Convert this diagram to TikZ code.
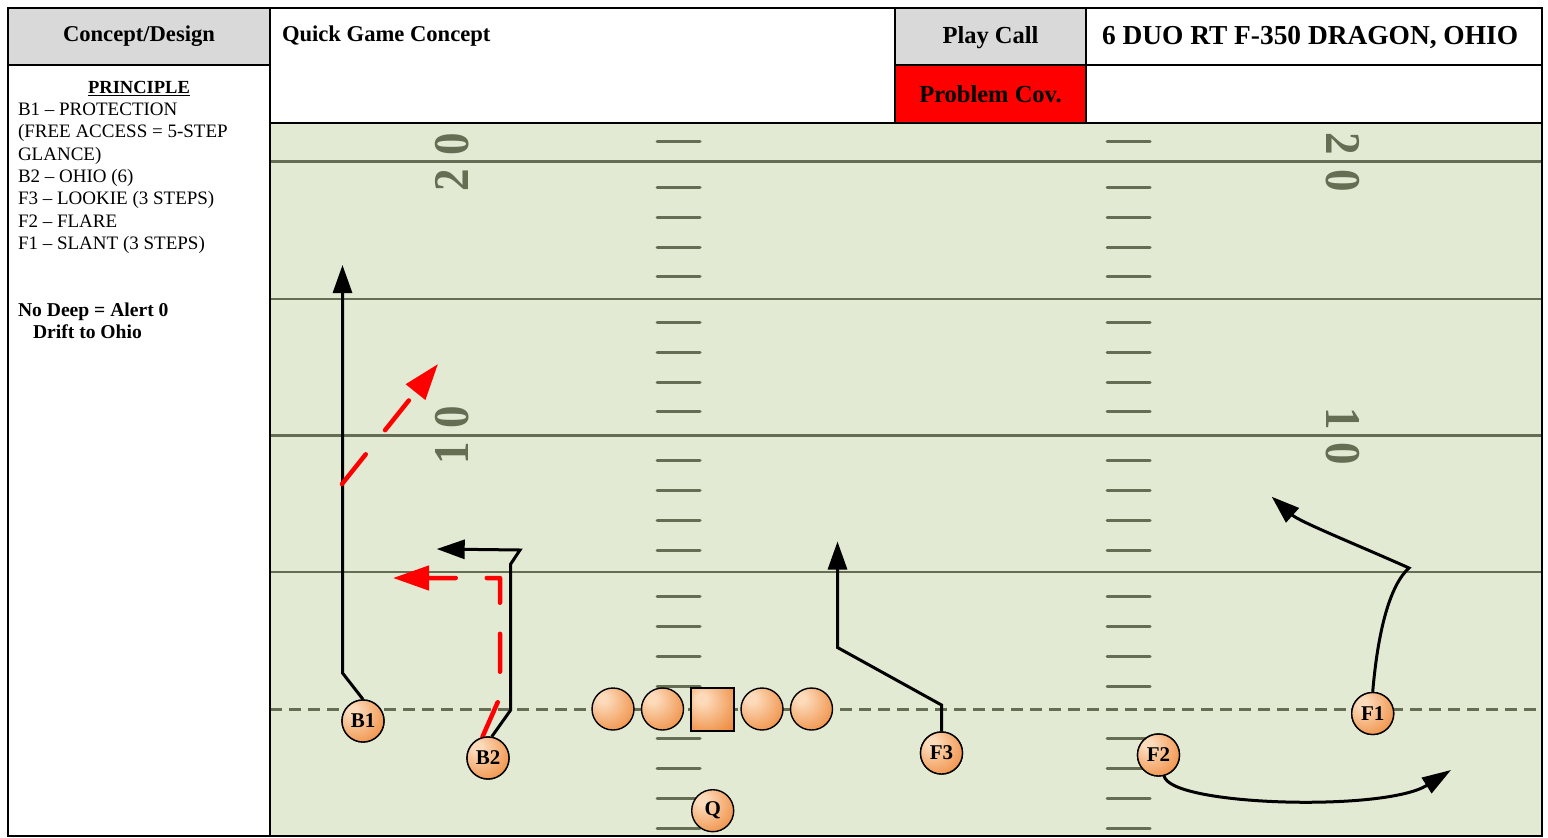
\documentclass[tikz,border=0pt]{standalone}
\usepackage{graphicx}
\usepackage{fontspec}
\setmainfont{Liberation Serif}
\usetikzlibrary{arrows.meta}
\definecolor{fieldg}{HTML}{E2EAD4}
\definecolor{lineg}{HTML}{656D53}
\definecolor{hdr}{HTML}{D9D9D9}
\definecolor{orL}{HTML}{FCDABA}
\definecolor{orD}{HTML}{EE8636}
\pgfdeclareradialshading{orb}{\pgfpoint{-14bp}{14bp}}{color(0bp)=(orL); color(6bp)=(orL); color(42bp)=(orD); color(75bp)=(orD)}
\tikzset{
  tbl/.style={draw=black, line width=2pt},
  txt/.style={inner sep=0pt, outer sep=0pt},
  hdrfont/.style={font=\bfseries\fontsize{#1}{#1}\selectfont},
  bodyline/.style={txt, anchor=base west, font=\fontsize{19}{22}\selectfont},
  boldline/.style={txt, anchor=base west, font=\bfseries\fontsize{19.6}{22}\selectfont},
  player/.style={circle, draw=black, line width=1.4pt, minimum size=42pt, inner sep=0pt, shading=orb, font=\bfseries\fontsize{21}{22}\selectfont},
  centerbox/.style={rectangle, draw=black, line width=1.4pt, minimum size=43pt, inner sep=0pt, shading=orb},
  route/.style={draw=black, line width=3pt, -{Triangle[length=28pt,width=19pt]}},
  hot/.style={draw=red, line width=4.5pt, line cap=round, line join=round, dash pattern=on 38pt off 31pt, -{Triangle[length=36pt,width=24pt]}},
  hashmk/.style={draw=lineg, line width=3pt, line cap=round},
  yardnum/.style={txt, text=lineg, font=\bfseries\fontsize{50}{50}\selectfont},
}
\begin{document}
\begin{tikzpicture}[x=1pt,y=-1pt]
\useasboundingbox (0,0) rectangle (1548,838);
\fill[white] (0,0) rectangle (1548,838);
% cells
\fill[hdr] (8,8) rectangle (270,65);
\fill[hdr] (895,8) rectangle (1086,65);
\fill[red] (895,65) rectangle (1086,123);
\fill[fieldg] (270,123) rectangle (1542,836);
% field lines
\draw[lineg, line width=3pt] (270,161.5) -- (1542,161.5);
\draw[lineg, line width=1.6pt] (270,299) -- (1542,299);
\draw[lineg, line width=3pt] (270,435.5) -- (1542,435.5);
\draw[lineg, line width=1.6pt] (270,572) -- (1542,572);
\draw[lineg, line width=3pt, dash pattern=on 12pt off 7pt] (270,709) -- (1542,709);
\foreach \y in {141,187,217,247,276,322,352,382,411,460,490,520,550,596,626,656,686,738,768,798,828}{
  \draw[hashmk] (657,\y) -- (700,\y);
  \draw[hashmk] (1107,\y) -- (1150,\y);
}
% yard numbers
\node[yardnum, rotate=90] (nl20a) at (452,144) {\scalebox{0.9}[1]{0}};
\node[yardnum, rotate=90] (nl20b) at (452,180) {\scalebox{0.9}[1]{2}};
\node[yardnum, rotate=90] (nl10a) at (452,417.5) {\scalebox{0.9}[1]{0}};
\node[yardnum, rotate=90] (nl10b) at (452,453.3) {\scalebox{0.9}[1]{1}};
\node[yardnum, rotate=-90] (nr20a) at (1343,143.3) {\scalebox{0.9}[1]{2}};
\node[yardnum, rotate=-90] (nr20b) at (1343,180.3) {\scalebox{0.9}[1]{0}};
\node[yardnum, rotate=-90] (nr10a) at (1343,418.7) {\scalebox{0.9}[1]{1}};
\node[yardnum, rotate=-90] (nr10b) at (1343,454) {\scalebox{0.9}[1]{0}};
% players
\node[player] (B1) at (363,721) {B1};
\node[player] (B2) at (488,758) {B2};
\node[player] (OL1) at (613,709) {};
\node[player] (OL2) at (662.5,709) {};
\node[centerbox] (C) at (712.5,709.5) {};
\node[player] (OL3) at (762,709) {};
\node[player] (OL4) at (811.5,709) {};
\node[player] (Q) at (712.7,810.7) {Q};
\node[player] (F3) at (941.5,753) {F3};
\node[player] (F2) at (1158.5,755) {F2};
\node[player] (F1) at (1372.7,713.5) {F1};
% route coordinates
\coordinate (b1k) at (342.5,673);
\coordinate (b1e) at (342.5,265);
\coordinate (b1h) at (342,484);
\coordinate (b1he) at (438,364);
\coordinate (b2k1) at (510.7,710);
\coordinate (b2k2) at (510.7,564);
\coordinate (b2k3) at (520,550);
\coordinate (b2e) at (436.7,549);
\coordinate (b2h1) at (500,697);
\coordinate (b2h2) at (500,578);
\coordinate (b2he) at (393,578);
\coordinate (f3k1) at (941.5,705);
\coordinate (f3k2) at (837.5,647.5);
\coordinate (f3e) at (837.5,541.5);
\coordinate (f1k) at (1409,568);
\coordinate (f1e) at (1271.7,496.7);
\coordinate (f2e) at (1451,770);
% routes
\draw[route] (B1.north) -- (b1k) -- (b1e);
\draw[hot] (b1h) -- (b1he);
\draw[route] (B2.80) -- (b2k1) -- (b2k2) -- (b2k3) -- (b2e);
\draw[hot] (B2.105) -- (b2h1) -- (b2h2) -- (b2he);
\draw[route] (F3.north) -- (f3k1) -- (f3k2) -- (f3e);
\draw[route] (F1.north) .. controls (1378,630) and (1390,585) .. (f1k) .. controls (1360,546) and (1300,522) .. (f1e);
\draw[route, -{Triangle[length=29pt,width=18pt]}] (F2.-75) .. controls (1170,806) and (1385,812) .. (f2e);
% redraw players on top of route starts
\node[player] at (B1) {B1};
\node[player] at (B2) {B2};
\node[player] at (F3) {F3};
\node[player] at (F2) {F2};
\node[player] at (F1) {F1};
% table borders
\draw[tbl] (8,8) rectangle (1542,836);
\draw[tbl] (270,8) -- (270,836);
\draw[tbl] (895,8) -- (895,123);
\draw[tbl] (1086,8) -- (1086,123);
\draw[tbl] (8,65) -- (270,65);
\draw[tbl] (895,65) -- (1542,65);
\draw[tbl] (270,123) -- (1542,123);
% header texts
\node[txt, anchor=base, hdrfont=22.6] (tcd) at (139,41) {Concept/Design};
\node[txt, anchor=base west, hdrfont=22.6] (tqg) at (282,41) {Quick Game Concept};
\node[txt, anchor=base, hdrfont=24.5] (tpc) at (990.5,43.5) {Play Call};
\node[txt, anchor=base, hdrfont=24.5] (tprob) at (990.5,102) {Problem Cov.};
\node[txt, anchor=base west, hdrfont=27.4] (tcall) at (1102,44) {6 DUO RT F-350 DRAGON, OHIO};
% left column
\node[txt, anchor=base, hdrfont=18.5] (tpr) at (139,93.3) {\underline{PRINCIPLE}};
\node[bodyline] (l1) at (18,115.5) {B1 – PROTECTION};
\node[bodyline] (l2) at (18,137.8) {(FREE ACCESS = 5-STEP};
\node[bodyline] (l3) at (18,160) {GLANCE)};
\node[bodyline] (l4) at (18,182.3) {B2 – OHIO (6)};
\node[bodyline] (l5) at (18,204.6) {F3 – LOOKIE (3 STEPS)};
\node[bodyline] (l6) at (18,227) {F2 – FLARE};
\node[bodyline] (l7) at (18,249.2) {F1 – SLANT (3 STEPS)};
\node[boldline] (l8) at (18,316.7) {No Deep = Alert 0};
\node[boldline] (l9) at (33,338.5) {Drift to Ohio};
\end{tikzpicture}
\end{document}
